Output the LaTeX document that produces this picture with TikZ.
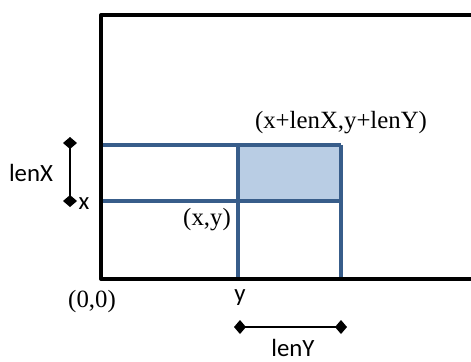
\documentclass[tikz,border=0pt]{standalone}
\usepackage{fontspec}
\setmainfont{Liberation Serif}
\newfontfamily\calfont{Carlito}
\usetikzlibrary{arrows.meta, positioning}
\definecolor{gridblue}{RGB}{56,93,138}
\definecolor{cellfill}{RGB}{185,205,228}

\begin{document}
\begin{tikzpicture}[x=0.5pt, y=-0.5pt,
    frame/.style={draw=black, line width=2pt, line join=round},
    gridline/.style={draw=gridblue, line width=1.6pt},
    span/.style={{Diamond[length=6pt,width=7pt]}-{Diamond[length=6pt,width=7pt]},
                 line width=1pt},
    serif/.style={font=\fontsize{12.4}{14}\selectfont, inner sep=0pt},
    sans/.style={font=\calfont\fontsize{12.4}{14}\selectfont, inner sep=0pt}
  ]
  \useasboundingbox (0,0) rectangle (471,361);

  % grid corners
  \coordinate (xl) at (101,145);
  \coordinate (xr) at (341,145);
  \coordinate (yl) at (101,201);
  \coordinate (yr) at (341,201);
  \coordinate (p) at (238,201);
  \coordinate (q) at (341,145);

  % shaded cell
  \fill[cellfill] (p) rectangle (q);

  % blue lines
  \draw[gridline] (xl) -- (xr);
  \draw[gridline] (yl) -- (yr);
  \draw[gridline] (238,145) -- (238,279);
  \draw[gridline] (341,145) -- (341,279);

  % outer frame
  \draw[frame] (471,15) -- (101,15) -- (101,279) -- (471,279);

  % lenX span
  \coordinate (xtop) at (70,137);
  \coordinate (xbot) at (70,207);
  \draw[span] (xtop) -- (xbot);
  \node[sans] (lenX) at (31,173) {lenX};
  \node[sans] (x) at (84,204) {x};

  % lenY span
  \coordinate (yleft) at (234,327);
  \coordinate (yright) at (347,327);
  \draw[span] (yleft) -- (yright);
  \node[sans] (lenY) at (293,348) {lenY};
  \node[sans] (y) at (240,298) {y};

  % point labels
  \node[serif] (origin) at (92,302) {(0,0)};
  \node[serif] (pxy) at (207,220) {(x,y)};
  \node[serif] (pend) at (341,123) {(x+lenX,y+lenY)};
\end{tikzpicture}
\end{document}
